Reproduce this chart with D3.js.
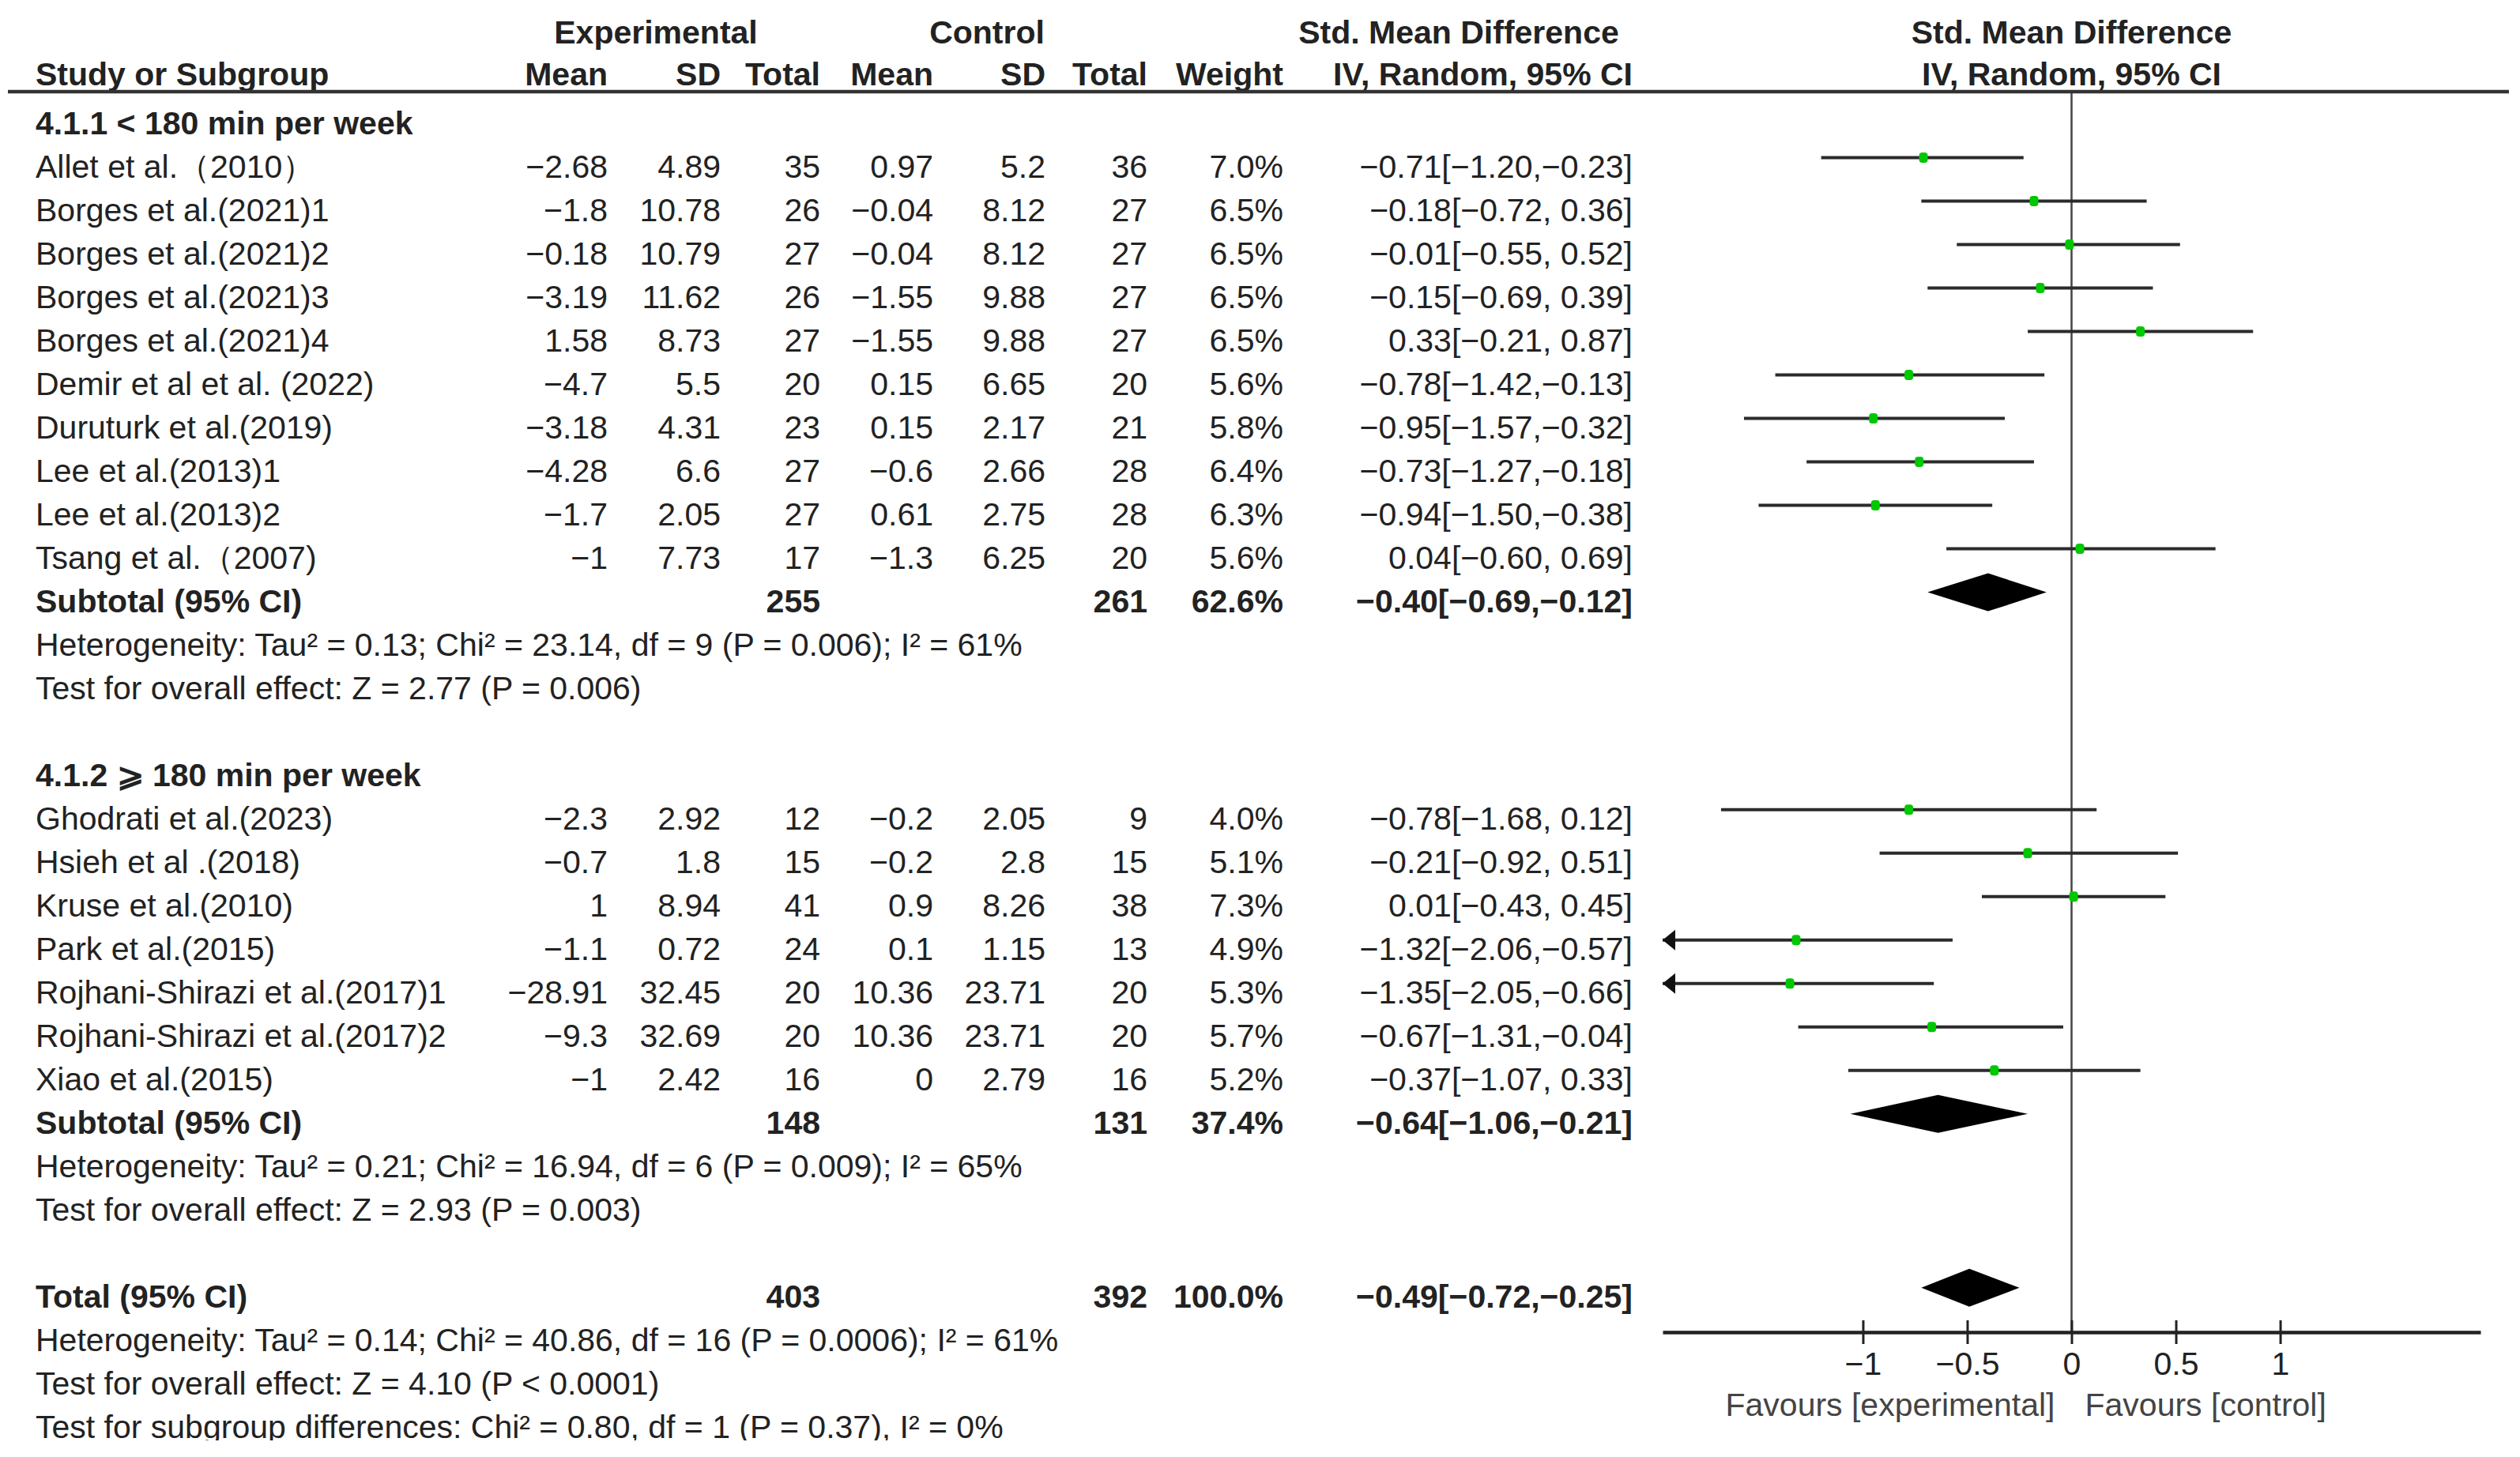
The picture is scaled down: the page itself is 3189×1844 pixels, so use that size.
<!DOCTYPE html>
<html>
  <head>
    <meta charset="utf-8">
    <title>Forest Plot</title>
    <style>
      body { margin: 0; background: #fff; }
      text { font-family: "Liberation Sans", Arial, sans-serif; font-size: 41px; fill: #222; }
      .bold { font-weight: bold; }
    </style>
  </head>
  <body>
    <div id="container"></div>
    <script src="https://cdn.jsdelivr.net/npm/d3@7"></script>
    <script>

      // DATA
      var groupTitles = ["4.1.1 < 180 min per week", "4.1.2 \u2A7E 180 min per week"];
      var studies = ["Allet et al.\uFF082010\uFF09", "Borges et al.(2021)1", "Borges et al.(2021)2", "Borges et al.(2021)3",
        "Borges et al.(2021)4", "Demir et al et al. (2022)", "Duruturk et al.(2019)", "Lee et al.(2013)1",
        "Lee et al.(2013)2", "Tsang et al.\uFF082007)",
        "Ghodrati et al.(2023)", "Hsieh et al .(2018)", "Kruse et al.(2010)", "Park et al.(2015)",
        "Rojhani-Shirazi et al.(2017)1", "Rojhani-Shirazi et al.(2017)2", "Xiao et al.(2015)"];
      var studyGroup = [0, 0, 0, 0, 0, 0, 0, 0, 0, 0, 1, 1, 1, 1, 1, 1, 1];
      var expMean = [-2.68, -1.8, -0.18, -3.19, 1.58, -4.7, -3.18, -4.28, -1.7, -1, -2.3, -0.7, 1, -1.1, -28.91, -9.3, -1];
      var expSD = [4.89, 10.78, 10.79, 11.62, 8.73, 5.5, 4.31, 6.6, 2.05, 7.73, 2.92, 1.8, 8.94, 0.72, 32.45, 32.69, 2.42];
      var expN = [35, 26, 27, 26, 27, 20, 23, 27, 27, 17, 12, 15, 41, 24, 20, 20, 16];
      var ctlMean = [0.97, -0.04, -0.04, -1.55, -1.55, 0.15, 0.15, -0.6, 0.61, -1.3, -0.2, -0.2, 0.9, 0.1, 10.36, 10.36, 0];
      var ctlSD = [5.2, 8.12, 8.12, 9.88, 9.88, 6.65, 2.17, 2.66, 2.75, 6.25, 2.05, 2.8, 8.26, 1.15, 23.71, 23.71, 2.79];
      var ctlN = [36, 27, 27, 27, 27, 20, 21, 28, 28, 20, 9, 15, 38, 13, 20, 20, 16];
      var weight = [7.0, 6.5, 6.5, 6.5, 6.5, 5.6, 5.8, 6.4, 6.3, 5.6, 4.0, 5.1, 7.3, 4.9, 5.3, 5.7, 5.2];
      var smd = [-0.71, -0.18, -0.01, -0.15, 0.33, -0.78, -0.95, -0.73, -0.94, 0.04, -0.78, -0.21, 0.01, -1.32, -1.35, -0.67, -0.37];
      var ciLow = [-1.20, -0.72, -0.55, -0.69, -0.21, -1.42, -1.57, -1.27, -1.50, -0.60, -1.68, -0.92, -0.43, -2.06, -2.05, -1.31, -1.07];
      var ciHigh = [-0.23, 0.36, 0.52, 0.39, 0.87, -0.13, -0.32, -0.18, -0.38, 0.69, 0.12, 0.51, 0.45, -0.57, -0.66, -0.04, 0.33];

      var subExpN = [255, 148];
      var subCtlN = [261, 131];
      var subWeight = [62.6, 37.4];
      var subSmd = [-0.40, -0.64];
      var subLow = [-0.69, -1.06];
      var subHigh = [-0.12, -0.21];
      var subNotes = [
        ["Heterogeneity: Tau\u00B2 = 0.13; Chi\u00B2 = 23.14, df = 9 (P = 0.006); I\u00B2 = 61%",
          "Test for overall effect: Z = 2.77 (P = 0.006)"],
        ["Heterogeneity: Tau\u00B2 = 0.21; Chi\u00B2 = 16.94, df = 6 (P = 0.009); I\u00B2 = 65%",
          "Test for overall effect: Z = 2.93 (P = 0.003)"]];

      var totalExpN = 403, totalCtlN = 392, totalWeight = 100.0;
      var totalSmd = -0.49, totalLow = -0.72, totalHigh = -0.25;
      var totalNotes = [
        "Heterogeneity: Tau\u00B2 = 0.14; Chi\u00B2 = 40.86, df = 16 (P = 0.0006); I\u00B2 = 61%",
        "Test for overall effect: Z = 4.10 (P < 0.0001)",
        "Test for subgroup differences: Chi\u00B2 = 0.80, df = 1 (P = 0.37), I\u00B2 = 0%"];

      var axisTicks = [-1, -0.5, 0, 0.5, 1];
      var favours = ["Favours [experimental]", "Favours [control]"];

      // DIMENSIONS
      var W = 3189, H = 1844;
      var col = { name: 45, expMean: 769, expSD: 912, expN: 1038, ctlMean: 1181, ctlSD: 1323, ctlN: 1452, weight: 1624, ci: 2066 };

      var svg = d3.select("#container").append("svg")
        .attr("width", W).attr("height", H);
      svg.append("rect").attr("width", W).attr("height", H).attr("fill", "#fff");

      // SCALES
      var x = d3.scaleLinear().domain([-1.96, 1.96]).range([2104, 3139]);
      var y = d3.scaleLinear().domain([0, 30]).range([169.5, 169.5 + 55.01 * 30]); // text baselines per row
      var markY = k => y(k) - 25;
      var axisY = 1686;

      var num = v => (v < 0 ? "\u2212" + Math.abs(v) : String(v));
      var f2 = v => (v < 0 ? "\u2212" : "") + Math.abs(v).toFixed(2);
      var ciText = (e, lo, hi) => f2(e) + "[" + f2(lo) + "," + (hi < 0 ? "" : " ") + f2(hi) + "]";

      function txt(xp, k, s, anchor, bold) {
        return svg.append("text").attr("x", xp).attr("y", y(k))
          .attr("text-anchor", anchor || "start")
          .attr("class", bold ? "bold" : null)
          .text(s);
      }

      // HEADERS
      var h1 = 55, h2 = 108;
      [["Experimental", 830, "middle"], ["Control", 1249, "middle"], ["Std. Mean Difference", 1846, "middle"],
       ["Std. Mean Difference", x(0), "middle"]].forEach(d => {
        svg.append("text").attr("x", d[1]).attr("y", h1).attr("text-anchor", d[2]).attr("class", "bold").text(d[0]);
      });
      [["Study or Subgroup", col.name, "start"], ["Mean", col.expMean, "end"], ["SD", col.expSD, "end"],
       ["Total", col.expN, "end"], ["Mean", col.ctlMean, "end"], ["SD", col.ctlSD, "end"], ["Total", col.ctlN, "end"],
       ["Weight", col.weight, "end"], ["IV, Random, 95% CI", col.ci, "end"], ["IV, Random, 95% CI", x(0), "middle"]].forEach(d => {
        svg.append("text").attr("x", d[1]).attr("y", h2).attr("text-anchor", d[2]).attr("class", "bold").text(d[0]);
      });

      // ZERO LINE
      svg.append("line")
        .attr("x1", x(0)).attr("x2", x(0)).attr("y1", 116).attr("y2", axisY)
        .attr("stroke", "#444").attr("stroke-width", 2.5);

      svg.append("line")
        .attr("x1", 10).attr("x2", 3175).attr("y1", 116).attr("y2", 116)
        .attr("stroke", "#333").attr("stroke-width", 4.5);

      // CI LINE + POINT
      function ciMark(k, e, lo, hi) {
        var my = markY(k);
        var x0 = Math.max(x(lo), x.range()[0]);
        var x1 = Math.min(x(hi), x.range()[1]);
        svg.append("line").attr("x1", x0).attr("x2", x1).attr("y1", my).attr("y2", my)
          .attr("stroke", "#2b2b2b").attr("stroke-width", 4);
        if (x(lo) < x.range()[0]) {
          svg.append("path")
            .attr("d", "M" + x0 + "," + my + "L" + (x0 + 16) + "," + (my - 13) + "L" + (x0 + 16) + "," + (my + 13) + "Z")
            .attr("fill", "#111");
        }
        svg.append("rect").attr("x", x(e) - 5.5).attr("y", my - 6.5).attr("width", 11).attr("height", 13)
          .attr("rx", 4).attr("fill", "#00c800");
      }

      function diamond(k, e, lo, hi) {
        var my = markY(k);
        svg.append("path")
          .attr("d", "M" + x(lo) + "," + my + "L" + x(e) + "," + (my - 24) + "L" + x(hi) + "," + my +
            "L" + x(e) + "," + (my + 24) + "Z")
          .attr("fill", "#000");
      }

      // ROWS
      var k = 0;
      [0, 1].forEach(g => {
        txt(col.name, k, groupTitles[g], "start", true);
        k++;
        studies.forEach((s, i) => {
          if (studyGroup[i] !== g) return;
          txt(col.name, k, s);
          txt(col.expMean, k, num(expMean[i]), "end");
          txt(col.expSD, k, num(expSD[i]), "end");
          txt(col.expN, k, expN[i], "end");
          txt(col.ctlMean, k, num(ctlMean[i]), "end");
          txt(col.ctlSD, k, num(ctlSD[i]), "end");
          txt(col.ctlN, k, ctlN[i], "end");
          txt(col.weight, k, weight[i].toFixed(1) + "%", "end");
          txt(col.ci, k, ciText(smd[i], ciLow[i], ciHigh[i]), "end");
          ciMark(k, smd[i], ciLow[i], ciHigh[i]);
          k++;
        });
        txt(col.name, k, "Subtotal (95% CI)", "start", true);
        txt(col.expN, k, subExpN[g], "end", true);
        txt(col.ctlN, k, subCtlN[g], "end", true);
        txt(col.weight, k, subWeight[g].toFixed(1) + "%", "end", true);
        txt(col.ci, k, ciText(subSmd[g], subLow[g], subHigh[g]), "end", true);
        diamond(k, subSmd[g], subLow[g], subHigh[g]);
        k++;
        subNotes[g].forEach(n => { txt(col.name, k, n); k++; });
        k++;
      });

      txt(col.name, k, "Total (95% CI)", "start", true);
      txt(col.expN, k, totalExpN, "end", true);
      txt(col.ctlN, k, totalCtlN, "end", true);
      txt(col.weight, k, totalWeight.toFixed(1) + "%", "end", true);
      txt(col.ci, k, ciText(totalSmd, totalLow, totalHigh), "end", true);
      diamond(k, totalSmd, totalLow, totalHigh);
      k++;
      totalNotes.forEach(n => { txt(col.name, k, n); k++; });

      // AXIS
      var axis = svg.append("g")
        .attr("transform", "translate(0," + axisY + ")")
        .call(d3.axisBottom(x).tickValues(axisTicks).tickSizeOuter(0).tickSizeInner(15).tickPadding(10)
          .tickFormat(d3.format("")));
      axis.select(".domain").attr("stroke", "#222").attr("stroke-width", 4.5);
      axis.selectAll(".tick line").attr("y1", -15).attr("y2", 15).attr("stroke", "#222").attr("stroke-width", 3);
      axis.selectAll(".tick text").attr("font-size", null).attr("font-family", null).style("font-size", "41px")
        .attr("fill", "#222");

      svg.append("text").attr("x", x(0) - 21).attr("y", 1792).attr("text-anchor", "end")
        .style("fill", "#444").text(favours[0]);
      svg.append("text").attr("x", x(0) + 17).attr("y", 1792).attr("text-anchor", "start")
        .style("fill", "#444").text(favours[1]);

      // the source picture is cropped just under the last line of notes
      svg.append("rect").attr("x", 0).attr("y", 1823).attr("width", W).attr("height", H - 1823).attr("fill", "#fff");

    </script>
  </body>
</html>
